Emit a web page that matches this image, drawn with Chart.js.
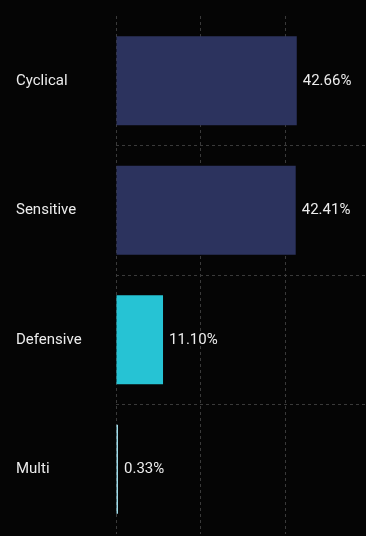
<!DOCTYPE html>
<html>
<head>
<meta charset="utf-8">
<script src="https://cdn.jsdelivr.net/npm/chart.js@4/dist/chart.umd.min.js"></script>
<style>
  html, body { margin: 0; padding: 0; background: #050505; }
  #wrap { width: 366px; height: 536px; }
</style>
</head>
<body>
<div id="wrap"><canvas id="myChart" width="366" height="536"></canvas></div>
<script>
const categories = ["Cyclical", "Sensitive", "Defensive", "Multi"];
const weights = [42.66, 42.41, 11.10, 0.33];
const barColors = ["#2c335e", "#2c335e", "#26c3d4", "#9fdcea"];

const FONT = "Roboto, 'Noto Sans', sans-serif";

// labels: category names on the left, percentages after each bar
const labelPlugin = {
  id: "labels",
  afterDatasetsDraw(chart) {
    const c = chart.ctx;
    const meta = chart.getDatasetMeta(0);
    c.save();
    c.font = "15px " + FONT;
    c.fillStyle = "#ececec";
    c.textBaseline = "middle";
    c.textAlign = "left";
    meta.data.forEach((bar, i) => {
      c.fillText(categories[i], 16, bar.y);
      c.fillText(weights[i].toFixed(2) + "%", Math.max(bar.x, chart.chartArea.left + 2) + 6, bar.y);
    });
    c.restore();
  },
};

var ctx = document.getElementById("myChart").getContext("2d");
var myChart = new Chart(ctx, {
  type: "bar",
  data: {
    labels: categories,
    datasets: [{
      data: weights,
      backgroundColor: barColors,
      borderWidth: 0,
      minBarLength: 2,
      categoryPercentage: 1,
      barPercentage: 0.687,
    }],
  },
  options: {
    indexAxis: "y",
    responsive: false,
    animation: false,
    layout: { padding: { top: 16, bottom: 2, left: 0, right: 0 } },
    plugins: { legend: { display: false }, tooltip: { enabled: false } },
    scales: {
      x: {
        min: 0,
        max: 59,
        ticks: { display: false, stepSize: 20 },
        border: { display: false, dash: [3, 3] },
        grid: {
          drawTicks: false,
          color: (c) => (c.tick && c.tick.value > 40 ? "transparent" : "#3a3a3a"),
        },
      },
      y: {
        ticks: { display: false },
        afterFit: (scale) => { scale.width = 116; },
        border: { display: false, dash: [3, 3] },
        grid: {
          offset: true,
          drawTicks: false,
          color: (c) => (c.type !== "tick" || c.index === 0 ? "transparent" : "#3a3a3a"),
        },
      },
    },
  },
  plugins: [labelPlugin],
});
</script>
</body>
</html>
